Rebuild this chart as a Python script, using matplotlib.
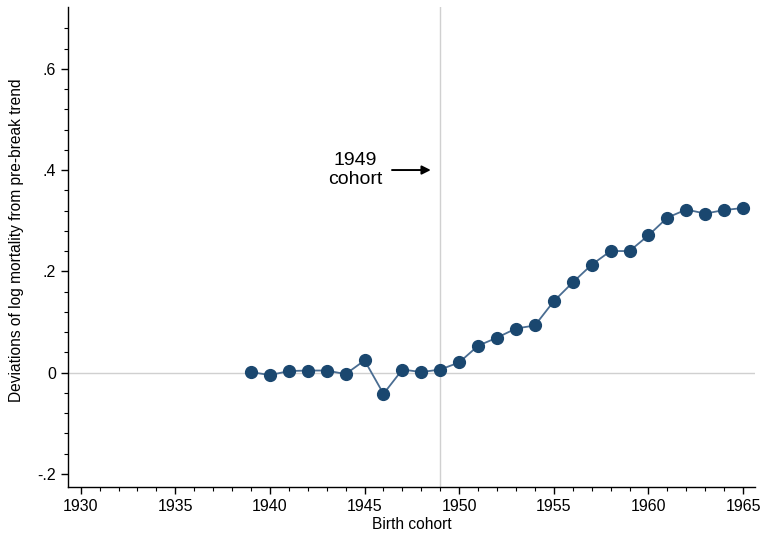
import numpy as np
import matplotlib.pyplot as plt

plt.rcParams['font.family'] = ['Liberation Sans', 'DejaVu Sans']

cohort = np.arange(1939, 1966)
deviation = [0.001, -0.005, 0.003, 0.004, 0.004, -0.003, 0.024, -0.042, 0.006, 0.001,
             0.006, 0.020, 0.053, 0.069, 0.087, 0.093, 0.141, 0.178, 0.213, 0.240,
             0.240, 0.271, 0.306, 0.322, 0.314, 0.321, 0.325]

y_ticks = [-0.2, 0, 0.2, 0.4, 0.6]
y_tick_labels = ['-.2', '0', '.2', '.4', '.6']
x_ticks = [1930, 1935, 1940, 1945, 1950, 1955, 1960, 1965]
break_year = 1949

fig = plt.figure(figsize=(7.62, 5.33), dpi=100)
ax = fig.add_axes([68 / 762, 1 - 487 / 533, 687 / 762, 480 / 533])

ax.axhline(0, color='#d0d0d0', lw=1, zorder=1)
ax.axvline(break_year, color='#d0d0d0', lw=1, zorder=1)

ax.plot(cohort, deviation, color='#4a6d92', lw=1.3, zorder=2)
ax.plot(cohort, deviation, 'o', color='#1a476f', ms=8.5, mec='#1a476f', zorder=3)

# arrow pointing at the break year
ax.annotate('', xy=(1948.5, 0.4), xytext=(1946.45, 0.4),
            arrowprops=dict(arrowstyle='-|>', color='black', lw=1.4,
                            mutation_scale=13, shrinkA=0, shrinkB=0))
ax.text(1944.5, 0.4, '1949\ncohort', ha='center', va='center', fontsize=14,
        linespacing=1.1)

ax.set_xlim(1929.33, 1965.63)
ax.set_ylim(-0.226, 0.722)

ax.set_xticks(x_ticks)
ax.set_xticks(np.arange(1930, 1966), minor=True)
ax.set_yticks(y_ticks)
ax.set_yticklabels(y_tick_labels)
ax.set_yticks([-0.16, -0.12, -0.08, -0.04, 0.04, 0.08, 0.12, 0.16, 0.24, 0.28, 0.32,
               0.36, 0.44, 0.48, 0.52, 0.56, 0.64, 0.68], minor=True)

ax.tick_params(axis='both', which='major', length=5, width=1, labelsize=11.5)
ax.tick_params(axis='both', which='minor', length=3, width=0.8)

for s in ['top', 'right']:
    ax.spines[s].set_visible(False)
for s in ['left', 'bottom']:
    ax.spines[s].set_linewidth(1)

ax.set_xlabel('Birth cohort', fontsize=11.2, labelpad=2)
ax.set_ylabel('Deviations of log mortality from pre-break trend', fontsize=11.2)
ax.yaxis.set_label_coords(-0.064, 0.5135)

fig.savefig('out.png', dpi=100)
